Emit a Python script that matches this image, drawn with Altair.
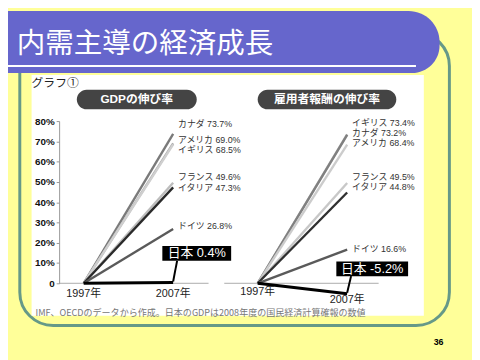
import altair as alt
import pandas as pd

# ---------------- data ----------------
years = [1997, 2007]
gdp_countries = ["カナダ", "アメリカ", "イギリス", "フランス", "イタリア", "ドイツ", "日本"]
gdp_growth = [73.7, 69.0, 68.5, 49.6, 47.3, 26.8, 0.4]
wage_countries = ["イギリス", "カナダ", "アメリカ", "フランス", "イタリア", "ドイツ", "日本"]
wage_growth = [73.4, 73.2, 68.4, 49.5, 44.8, 16.6, -5.2]
y_ticks = [0, 10, 20, 30, 40, 50, 60, 70, 80]
title_text = "内需主導の経済成長"
graph_label = "グラフ①"
panel_titles = ["GDPの伸び率", "雇用者報酬の伸び率"]
year_labels = ["1997年", "2007年"]
footnote = "IMF、OECDのデータから作成。日本のGDPは2008年度の国民経済計算確報の数値"
page_number = "36"

# ---------------- styles ----------------
FONT = "Noto Sans CJK JP"
MIXED = "Liberation Sans, Noto Sans CJK JP"
left_colors = {"カナダ": "#7a7a7a", "アメリカ": "#a8a8a8", "イギリス": "#cfcfcf",
               "フランス": "#bdbdbd", "イタリア": "#2a2a2a", "ドイツ": "#5a5a5a", "日本": "#000000"}
right_colors = {"イギリス": "#b5b5b5", "カナダ": "#808080", "アメリカ": "#cccccc",
                "フランス": "#c8c8c8", "イタリア": "#303030", "ドイツ": "#5a5a5a", "日本": "#000000"}
left_dy = {"カナダ": -10, "アメリカ": -3, "イギリス": 6, "フランス": -6, "イタリア": 1, "ドイツ": -3}
right_dy = {"イギリス": -12, "カナダ": -2, "アメリカ": -2, "フランス": -6, "イタリア": -6, "ドイツ": -1}

YS = dict(domain=[0, 80], range=[277, 112], nice=False, zero=False)
XS = {"L": dict(domain=[1997, 2007], range=[77, 168], nice=False, zero=False),
      "R": dict(domain=[1997, 2007], range=[254, 345], nice=False, zero=False)}


def X(p):
    return alt.X("year:Q", scale=alt.Scale(**XS[p]), axis=None)


def Y(axis=None):
    return alt.Y("value:Q", scale=alt.Scale(**YS), axis=axis)


one = pd.DataFrame({"k": [0]})
layers = []

# ---------------- slide decorations ----------------
layers.append(alt.Chart(one).mark_rect(fillOpacity=0, stroke="#669988", strokeWidth=3, cornerRadius=34)
              .encode(x=alt.value(12), x2=alt.value(449), y=alt.value(22), y2=alt.value(320)))
layers.append(alt.Chart(one).mark_rect(color="#ffffff")
              .encode(x=alt.value(24), x2=alt.value(423), y=alt.value(65), y2=alt.value(310)))
layers.append(alt.Chart(one).mark_rect(color="#6666cc", cornerRadiusTopRight=34, cornerRadiusBottomRight=28)
              .encode(x=alt.value(-10), x2=alt.value(439), y=alt.value(0), y2=alt.value(63)))
layers.append(alt.Chart(one).mark_rule(color="#ffffff", strokeWidth=2)
              .encode(x=alt.value(0), x2=alt.value(415), y=alt.value(56)))
layers.append(alt.Chart(one).mark_text(text=title_text, font=FONT, fontSize=29, color="#ffffff",
                                       align="left", baseline="alphabetic")
              .encode(x=alt.value(9), y=alt.value(43)))
layers.append(alt.Chart(one).mark_text(text=graph_label, font=FONT, fontSize=12, color="#222222",
                                       align="left", baseline="middle")
              .encode(x=alt.value(24), y=alt.value(73)))
for (x0, x1), t in zip([(70, 192), (254, 395)], panel_titles):
    layers.append(alt.Chart(one).mark_rect(color="#444444", cornerRadius=10)
                  .encode(x=alt.value(x0), x2=alt.value(x1), y=alt.value(80), y2=alt.value(100)))
    layers.append(alt.Chart(one).mark_text(text=t, font=MIXED, fontSize=12, fontWeight="bold",
                                           color="#ffffff", align="center", baseline="middle")
                  .encode(x=alt.value((x0 + x1) / 2), y=alt.value(90)))
layers.append(alt.Chart(one).mark_text(text=footnote, font=FONT, fontSize=9.2, color="#777777",
                                       align="left", baseline="middle")
              .encode(x=alt.value(28), y=alt.value(307)))
layers.append(alt.Chart(one).mark_text(text=page_number, font="Liberation Sans", fontSize=9,
                                       fontWeight="bold", color="#000000", align="center", baseline="middle")
              .encode(x=alt.value(438), y=alt.value(337)))

# ---------------- axis + baselines ----------------
axis_df = pd.DataFrame({"value": y_ticks})
layers.append(alt.Chart(axis_df).mark_point(opacity=0).encode(
    y=Y(alt.Axis(values=y_ticks, labelExpr="datum.value == 0 ? '0' : datum.value + '%'",
                 offset=-52, grid=False, domainColor="#999999", tickColor="#999999", tickSize=3,
                 labelFont="Liberation Sans", labelFontWeight="bold", labelFontSize=10,
                 labelColor="#111111", labelPadding=2, title=None, zindex=1)),
    x=alt.value(60)))
zero_df = pd.DataFrame({"value": [0]})
for x0, x1 in [(52, 204), (220, 377)]:
    layers.append(alt.Chart(zero_df).mark_rule(color="#aaaaaa", strokeWidth=1)
                  .encode(y=Y(), x=alt.value(x0), x2=alt.value(x1)))


# ---------------- panels ----------------
def panel(p, countries, growth, colors, dys, box, year_vals, year_dys):
    out = []
    for c, v in zip(countries, growth):
        df = pd.DataFrame({"country": [c, c], "year": years, "value": [0, v]})
        out.append(alt.Chart(df).mark_line(color=colors[c], strokeWidth=3 if c == "日本" else 2.4)
                   .encode(x=X(p), y=Y()))
    for c, v in zip(countries, growth):
        lab = f"{c} {v:.1f}%" if c != "日本" else f"{c}  {v:.1f}%"
        end = pd.DataFrame({"year": [years[1]], "value": [v], "label": [lab]})
        if c != "日本":
            out.append(alt.Chart(end).mark_text(font=MIXED, fontSize=9, color="#333333", align="left",
                                                baseline="middle", dx=5, dy=dys[c])
                       .encode(x=X(p), y=Y(), text="label:N"))
        else:
            bx0, bx1, by0, by1 = box
            out.append(alt.Chart(end).mark_rule(color="#000000", strokeWidth=2, xOffset=0, yOffset=-1,
                                                x2Offset=4, y2Offset=by1)
                       .encode(x=X(p), x2="year:Q", y=Y(), y2="value:Q"))
            out.append(alt.Chart(end).mark_rect(color="#000000", xOffset=bx0, x2Offset=bx1,
                                                yOffset=by0, y2Offset=by1)
                       .encode(x=X(p), x2="year:Q", y=Y(), y2="value:Q"))
            out.append(alt.Chart(end).mark_text(font=MIXED, fontSize=13, color="#ffffff", align="center",
                                                baseline="middle", dx=(bx0 + bx1) / 2, dy=(by0 + by1) / 2)
                       .encode(x=X(p), y=Y(), text="label:N"))
    for yr, lab, yv, dy in zip(years, year_labels, year_vals, year_dys):
        d = pd.DataFrame({"year": [yr], "value": [yv], "label": [lab]})
        out.append(alt.Chart(d).mark_text(font=MIXED, fontSize=11, color="#222222", align="center",
                                          baseline="middle", dy=dy)
                   .encode(x=X(p), y=Y(), text="label:N"))
    return out


layers += panel("L", gdp_countries, gdp_growth, left_colors, left_dy, (-11, 59, -37, -22),
                [0, 0], [11, 11])
layers += panel("R", wage_countries, wage_growth, right_colors, right_dy, (-11, 62, -33, -18),
                [0, wage_growth[wage_countries.index("日本")]], [9, 6])

chart = (alt.layer(*layers)
         .resolve_scale(x="independent", y="independent")
         .properties(width=472, height=352, padding=0, autosize="none", background="#ffff99")
         .configure_view(strokeWidth=0))

chart.save("out.html", embed_options={"renderer": "svg", "actions": False})
